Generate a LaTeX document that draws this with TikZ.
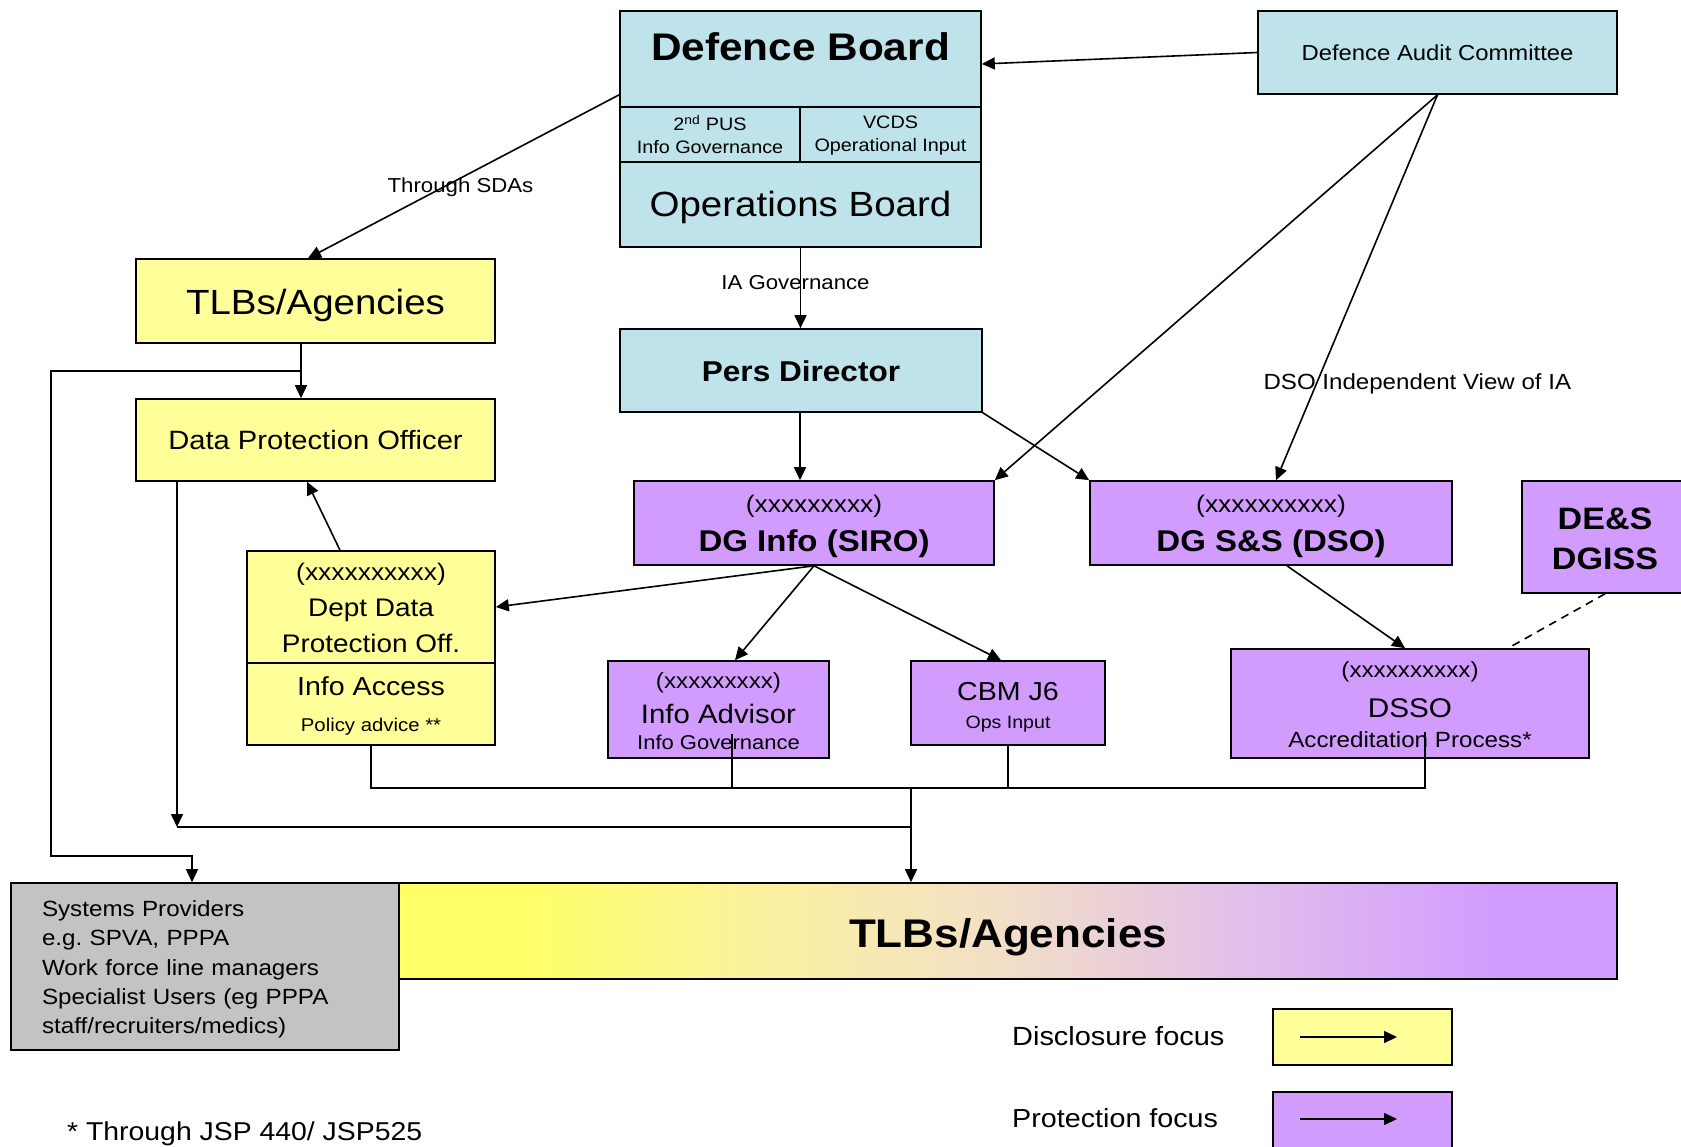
\documentclass[tikz,border=0pt]{standalone}
\usepackage{fontspec}
\setmainfont{Liberation Sans}[FakeStretch=1.1]
\usetikzlibrary{arrows.meta,calc}
\definecolor{cblue}{RGB}{190,227,234}
\definecolor{cyel}{RGB}{255,255,153}
\definecolor{cpur}{RGB}{210,156,255}
\definecolor{cgray}{RGB}{196,194,196}
\definecolor{gyone}{RGB}{255,255,102}
\definecolor{gytwo}{RGB}{250,242,160}
\definecolor{gmid}{RGB}{242,222,200}
\definecolor{glav}{RGB}{225,190,235}
\pgfdeclarehorizontalshading{barshade}{100bp}{color(0bp)=(gyone); color(25bp)=(gyone); color(30bp)=(gyone); color(40bp)=(gytwo); color(50bp)=(gmid); color(60bp)=(glav); color(70bp)=(cpur); color(75bp)=(cpur); color(100bp)=(cpur)}
\newcommand{\myfs}[2]{\fontsize{#1}{#2}\selectfont}
\frenchspacing
\begin{document}
\begin{tikzpicture}[x=1pt,y=-1pt,
  box/.style={draw=black, line width=1.6pt, rectangle, inner sep=0pt},
  bluebox/.style={box, fill=cblue},
  yelbox/.style={box, fill=cyel},
  purbox/.style={box, fill=cpur},
  txt/.style={inner sep=0pt, align=center, text=black},
  ln/.style={line width=1.6pt, draw=black},
  arr/.style={ln, -{Triangle[length=13pt,width=12pt]}},
  lbl/.style={inner sep=0pt, font=\myfs{20.2}{24}},
]
\useasboundingbox (0,0) rectangle (1681,1146);
\fill[white] (0,0) rectangle (1681,1146);
\clip (0,0) rectangle (1681,1146);

% top blue group
\node[bluebox, minimum width=361, minimum height=96] (dbtop) at (800.5,59) {};
\node[txt, anchor=base, font=\bfseries\myfs{38.5}{40}] (dbtxt) at (800.5,60) {Defence Board};
\node[bluebox, minimum width=180, minimum height=55] (pus) at (710,134.5) {};
\node[txt, font=\myfs{18}{23}] (pusT) at (pus.center) {2\textsuperscript{nd} PUS\\Info Governance};
\node[bluebox, minimum width=181, minimum height=55] (vcds) at (890.5,134.5) {};
\node[txt, font=\myfs{18}{23}] (vcdsT) at ([yshift=-1pt]vcds.center) {VCDS\\Operational Input};
\node[bluebox, minimum width=361, minimum height=85] (ops) at (800.5,204.5) {};
\node[txt, font=\myfs{35}{40}] (opsT) at ([yshift=-3pt]ops.center) {Operations Board};
\node[bluebox, minimum width=359, minimum height=83] (dac) at (1437.5,52.5) {};
\node[txt, font=\myfs{21.7}{26}] (dacT) at (dac.center) {Defence Audit Committee};
\node[bluebox, minimum width=362, minimum height=83] (pers) at (801,370.5) {};
\node[txt, font=\bfseries\myfs{28.7}{32}] (persT) at ([yshift=-1pt]pers.center) {Pers Director};

% yellow boxes
\node[yelbox, minimum width=359, minimum height=84] (tlb) at (315.5,301) {};
\node[txt, font=\myfs{35}{40}] (tlbT) at ([yshift=-4pt]tlb.center) {TLBs/Agencies};
\node[yelbox, minimum width=359, minimum height=82] (dpo) at (315.5,440) {};
\node[txt, font=\myfs{26.5}{30}] (dpoT) at (dpo.center) {Data Protection Officer};
\node[yelbox, minimum width=248, minimum height=112] (deptu) at (371,607) {};
\node[txt, font=\myfs{25.4}{36}] (deptuT) at ([yshift=-1pt]deptu.center) {{\myfs{24}{36}(xxxxxxxxxx)}\\Dept Data\\Protection Off.};
\node[yelbox, minimum width=248, minimum height=82] (deptl) at (371,704) {};
\node[txt, font=\myfs{26}{36}] (deptlT) at ([yshift=-2pt]deptl.center) {Info Access\\{\myfs{18.5}{36}Policy advice **}};

% purple boxes
\node[purbox, minimum width=360, minimum height=84] (dginfo) at (814,523) {};
\node[txt, font=\myfs{30}{39}] (dginfoT) at ([yshift=-3pt]dginfo.center) {{\myfs{24}{39}(xxxxxxxxx)}\\{\bfseries\myfs{30}{39}DG Info (SIRO)}};
\node[purbox, minimum width=362, minimum height=84] (dgss) at (1271,523) {};
\node[txt, font=\myfs{30}{39}] (dgssT) at ([yshift=-3pt]dgss.center) {{\myfs{24}{39}(xxxxxxxxxx)}\\{\bfseries\myfs{30}{39}DG S\&S (DSO)}};
\node[purbox, minimum width=166, minimum height=112] (des) at (1605,537) {};
\node[txt, font=\bfseries\myfs{31}{40}] (desT) at ([yshift=-2pt]des.center) {DE\&S\\DGISS};
\node[purbox, minimum width=221, minimum height=97] (ia) at (718.5,709.5) {};
\node[txt, font=\myfs{20}{26.5}] (iaT) at ([yshift=-2pt]ia.center) {{\myfs{22}{26.5}(xxxxxxxxx)}\\[8pt]{\myfs{26.7}{26.5}Info Advisor}\\{\myfs{20}{26.5}Info Governance}};
\node[purbox, minimum width=194, minimum height=84] (cbm) at (1008,703) {};
\node[txt, font=\myfs{26}{28}] (cbmT) at ([yshift=-4pt]cbm.center) {CBM J6\\{\myfs{17.8}{28}Ops Input}};
\node[purbox, minimum width=358, minimum height=109] (dsso) at (1410,703.5) {};
\node[txt, font=\myfs{22}{30}] (dssoT) at ([yshift=-1pt]dsso.center) {{\myfs{22}{30}(xxxxxxxxxx)}\\[10pt]{\myfs{27}{30}DSSO}\\{\myfs{22}{30}Accreditation Process*}};

% bottom
\node[box, fill=cgray, minimum width=388, minimum height=167] (sys) at (205,966.5) {};
\node[txt, text width=326, align=left, font=\myfs{22}{29.3}] (sysT) at ([yshift=-3pt]sys.center) {Systems Providers\\e.g. SPVA, PPPA\\Work force line managers\\Specialist Users (eg PPPA\\staff/recruiters/medics)};
\node[box, shade, shading=barshade, minimum width=1218, minimum height=96] (bar) at (1008,931) {};
\node[txt, font=\bfseries\myfs{40}{44}] (barT) at ([yshift=-6pt]bar.center) {TLBs/Agencies};

% legend
\node[yelbox, minimum width=179, minimum height=56] (leg1) at (1362.5,1037) {};
\node[purbox, minimum width=179, minimum height=56] (leg2) at (1362.5,1120) {};
\node[txt, anchor=west, font=\myfs{26.3}{30}] (legt1) at (1012,1036) {Disclosure focus};
\node[txt, anchor=west, font=\myfs{26.1}{30}] (legt2) at (1012,1118) {Protection focus};
\node[txt, anchor=base west, font=\myfs{25.8}{30}] (foot) at (67,1140) {* Through JSP 440/ JSP525};

% connectors
\draw[arr] (dac.west) -- ([yshift=-5pt]dbtop.east);
\draw[arr] ([yshift=13pt]dbtop.south west) -- node[lbl, pos=0.51, yshift=-9pt] (lsda) {Through SDAs} ([xshift=-7.5pt]tlb.north);
\draw[arr] (ops.south) -- node[lbl, pos=0.43, xshift=-5pt] (lia) {IA Governance} (ops.south |- pers.north);
\draw[arr] ([xshift=-1pt]pers.south) -- ([xshift=-1pt]pers.south |- dginfo.north);
\draw[arr] (pers.south east) -- (dgss.north west);
\draw[arr] (dac.south) -- (dginfo.north east);
\draw[arr] (dac.south) -- node[lbl, font=\myfs{21.9}{26}, pos=0.744, xshift=100pt, yshift=-2pt] (ldso) {DSO Independent View of IA} ([xshift=5pt]dgss.north);
\draw[arr] (dginfo.south) -- (deptu.east);
\draw[arr] (dginfo.south) -- ([xshift=16.5pt]ia.north);
\draw[arr] (dginfo.south) -- ([xshift=-7pt]cbm.north);
\draw[arr] ([xshift=16pt]dgss.south) -- ([xshift=-5pt]dsso.north);
\draw[ln, dash pattern=on 8pt off 6pt] (des.south) -- ([xshift=98pt]dsso.north);
\draw[arr] ([xshift=-31pt]deptu.north) -- ([xshift=-8.5pt]dpo.south);

\coordinate (tl) at ([xshift=-14.5pt]tlb.south);
\coordinate (dp) at ([xshift=-14.5pt]dpo.north);
\coordinate (j1) at ($(tl)!0.5!(dp)$);
\draw[arr] (tl) -- (dp);
\coordinate (lft) at (51,856);
\draw[arr] (j1) -- (j1 -| lft) -- (lft) -| ([xshift=-13pt]sys.north);

\coordinate (dpoturn) at (177,827);
\coordinate (bus) at (911,788);
\coordinate (iaB) at ([xshift=13.5pt,yshift=25pt]ia.south);
\coordinate (dsB) at ([xshift=15pt,yshift=27pt]dsso.south);
\draw[arr] ([xshift=-138.5pt]dpo.south) -- (dpoturn);
\draw[ln] (dpoturn) -- (dpoturn -| bus);
\draw[ln] (deptl.south) |- (dsB |- bus) -- (dsB);
\draw[ln] (iaB) -- (iaB |- bus);
\draw[ln] (cbm.south) -- (cbm.south |- bus);
\draw[arr] (bus) -- ([xshift=-97pt]bar.north);

\draw[arr] ([xshift=-62.5pt]leg1.center) -- ([xshift=34.5pt]leg1.center);
\draw[arr] ([xshift=-62.5pt,yshift=1pt]leg2.center) -- ([xshift=34.5pt,yshift=1pt]leg2.center);
\end{tikzpicture}
\end{document}
